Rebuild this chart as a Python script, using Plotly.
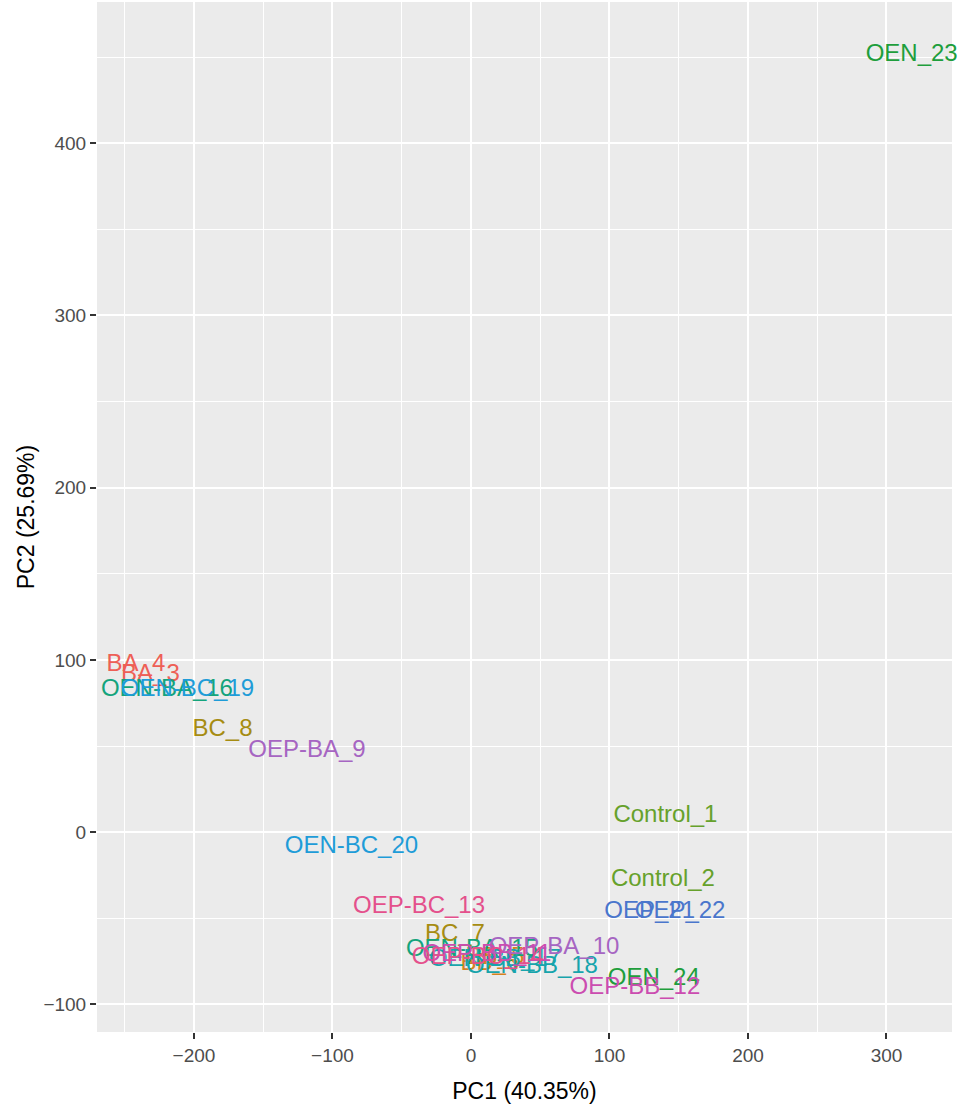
import plotly.graph_objects as go

samples = ["Control_1", "Control_2", "BA_3", "BA_4", "BB_5", "BB_6", "BC_7", "BC_8",
           "OEP-BA_9", "OEP-BA_10", "OEP-BB_11", "OEP-BB_12", "OEP-BC_13", "OEP-BC_14",
           "OEN-BA_15", "OEN-BA_16", "OEN-BB_17", "OEN-BB_18", "OEN-BC_19", "OEN-BC_20",
           "OEP_21", "OEP_22", "OEN_23", "OEN_24"]
groups = ["Control", "Control", "BA", "BA", "BB", "BB", "BC", "BC",
          "OEP-BA", "OEP-BA", "OEP-BB", "OEP-BB", "OEP-BC", "OEP-BC",
          "OEN-BA", "OEN-BA", "OEN-BB", "OEN-BB", "OEN-BC", "OEN-BC",
          "OEP", "OEP", "OEN", "OEN"]
pc1 = [140.4, 138.6, -231.4, -241.9, 17.3, 13.7, -11.6, -179.4,
       -118.4, 60.0, 11.5, 118.4, -37.5, 5.0,
       0.7, -219.5, 17.3, 44.0, -204.7, -86.3,
       129.0, 151.0, 318.2, 132.0]
pc2 = [9.5, -27.6, 91.4, 97.2, -73.0, -76.4, -59.5, 59.5,
       46.9, -67.0, -71.2, -90.4, -43.3, -73.0,
       -68.3, 82.7, -74.0, -78.2, 82.7, -8.3,
       -46.2, -46.2, 451.0, -85.0]

group_order = ["BA", "BB", "BC", "Control", "OEN", "OEN-BA", "OEN-BB", "OEN-BC",
               "OEP", "OEP-BA", "OEP-BB", "OEP-BC"]
group_colors = ["#EE5F56", "#D4821E", "#A68C12", "#66A12B", "#1E9E3C", "#14A47C",
                "#17A4AC", "#1E9CD8", "#4A76CC", "#A665C2", "#CB4CB0", "#E4508C"]

x_ticks = [-200, -100, 0, 100, 200, 300]
y_ticks = [-100, 0, 100, 200, 300, 400]

font_family = "Liberation Sans, Arial, Helvetica, sans-serif"

fig = go.Figure()
for g, col in zip(group_order, group_colors):
    idx = [i for i, gg in enumerate(groups) if gg == g]
    fig.add_trace(go.Scatter(
        x=[pc1[i] for i in idx],
        y=[pc2[i] for i in idx],
        text=[samples[i] for i in idx],
        mode="text",
        textposition="middle center",
        textfont=dict(family=font_family, size=24, color=col),
        name=g,
        showlegend=False,
        cliponaxis=False,
    ))

axis_common = dict(
    showgrid=True, gridcolor="white", gridwidth=1.6,
    zeroline=False, showline=False, automargin=False,
    ticks="outside", ticklen=6, tickwidth=1.5, tickcolor="#333333",
    tickfont=dict(family=font_family, size=19, color="#4D4D4D"),
    title_font=dict(family=font_family, size=23, color="black"),
    minor=dict(showgrid=True, gridcolor="white", gridwidth=0.8, dtick=50, ticks=""),
)

fig.update_layout(
    width=961, height=1105,
    margin=dict(l=97, r=9, t=2, b=73),
    paper_bgcolor="white",
    plot_bgcolor="#EBEBEB",
    xaxis=dict(range=[-270, 347.3], tickvals=x_ticks, title_text="PC1 (40.35%)",
               title_standoff=18, **axis_common),
    yaxis=dict(range=[-116, 482], tickvals=y_ticks, title_text="PC2 (25.69%)",
               title_standoff=2, **axis_common),
)

fig.write_html(
    "out.html",
    config={"displayModeBar": False},
    post_script="document.body.style.margin='0';document.body.style.overflow='hidden';",
)
